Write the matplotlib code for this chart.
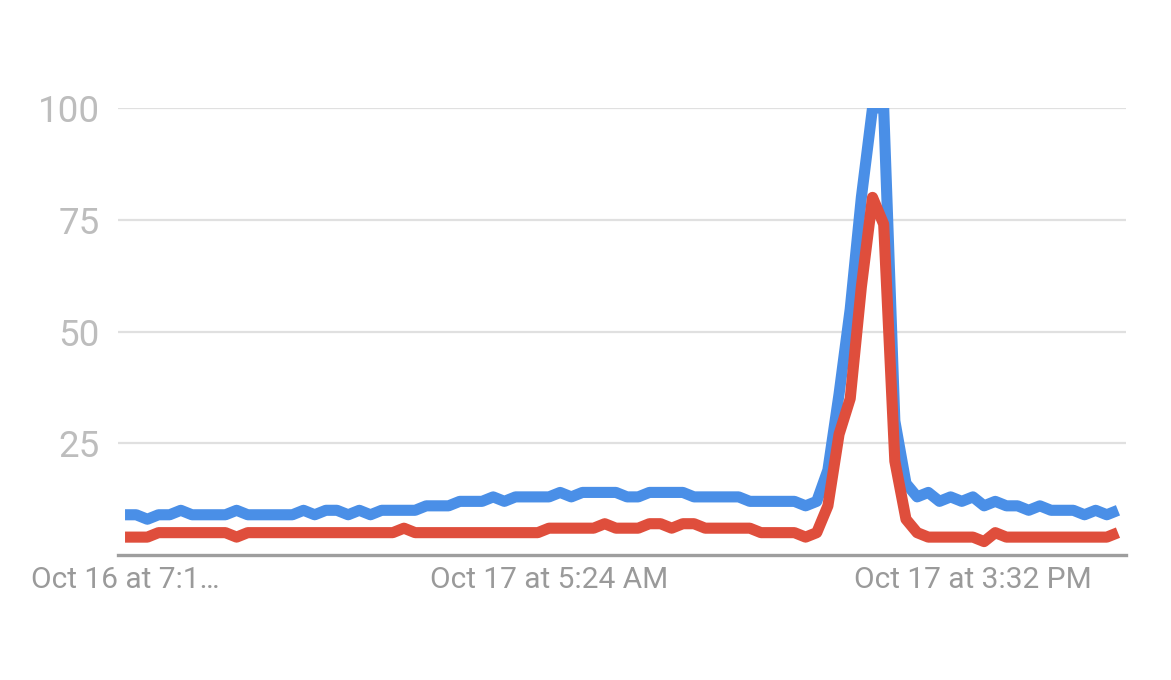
import matplotlib
matplotlib.use("Agg")
import matplotlib.pyplot as plt

# ---- data ----
blue = [9, 9, 8, 9, 9, 10, 9, 9, 9, 9,
        10, 9, 9, 9, 9, 9, 10, 9, 10, 10,
        9, 10, 9, 10, 10, 10, 10, 11, 11, 11,
        12, 12, 12, 13, 12, 13, 13, 13, 13, 14,
        13, 14, 14, 14, 14, 13, 13, 14, 14, 14,
        14, 13, 13, 13, 13, 13, 12, 12, 12, 12,
        12, 11, 12, 19, 36, 55, 80, 100, 100, 30,
        16, 13, 14, 12, 13, 12, 13, 11, 12, 11,
        11, 10, 11, 10, 10, 10, 9, 10, 9, 10]
red = [4, 4, 4, 5, 5, 5, 5, 5, 5, 5,
       4, 5, 5, 5, 5, 5, 5, 5, 5, 5,
       5, 5, 5, 5, 5, 6, 5, 5, 5, 5,
       5, 5, 5, 5, 5, 5, 5, 5, 6, 6,
       6, 6, 6, 7, 6, 6, 6, 7, 7, 6,
       7, 7, 6, 6, 6, 6, 6, 5, 5, 5,
       5, 4, 5, 11, 27, 35, 60, 80, 74, 21,
       8, 5, 4, 4, 4, 4, 4, 3, 5, 4,
       4, 4, 4, 4, 4, 4, 4, 4, 4, 5]
x_tick_pos = [0, 38, 76]
x_tick_labels = ["Oct 16 at 7:1\u2026", "Oct 17 at 5:24 AM", "Oct 17 at 3:32 PM"]
y_ticks = [25, 50, 75, 100]

plt.rcParams['font.family'] = ['Roboto', 'DejaVu Sans']

W, H = 1171, 680
fig = plt.figure(figsize=(W / 100, H / 100), dpi=100)
ax = fig.add_axes([118 / W, (H - 555) / H, (1126 - 118) / W, (555 - 108) / H])

x = list(range(len(blue)))
ax.plot(x, blue, color="#4A8FE7", lw=8, solid_joinstyle="round",
        solid_capstyle="butt", zorder=3)
ax.plot(x, red, color="#DF4E3C", lw=8, solid_joinstyle="round",
        solid_capstyle="butt", zorder=4)

ax.set_xlim(-0.63, 89.72)
ax.set_ylim(0, 100)

for yv in y_ticks:
    ax.axhline(yv, color="#E0E0E0", lw=1.6, zorder=1)
ax.axhline(0, color="#9E9E9E", lw=2.4, zorder=5, clip_on=False)

for s in ax.spines.values():
    s.set_visible(False)

ax.set_yticks(y_ticks)
ax.set_yticklabels([str(v) for v in y_ticks], fontsize=26.5, color="#BDBDBD")
ax.tick_params(axis="y", length=0, pad=13)

ax.set_xticks(x_tick_pos)
ax.set_xticklabels(x_tick_labels, fontsize=21.5, color="#9A9A9A")
ax.tick_params(axis="x", length=0, pad=8)

fig.savefig("out.png", dpi=100, facecolor="white")
